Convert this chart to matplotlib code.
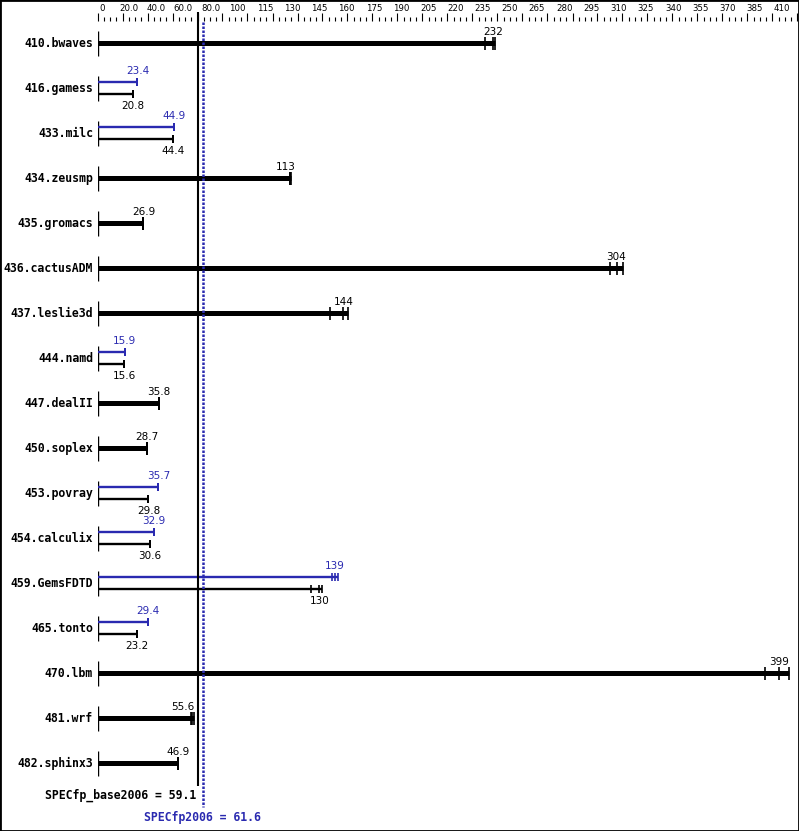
import numpy as np
import matplotlib
matplotlib.use("Agg")
import matplotlib.pyplot as plt
from matplotlib.patches import Rectangle


# benchmark data (SPEC CPU2006 fp ratios)
benchmarks = ["410.bwaves", "416.gamess", "433.milc", "434.zeusmp", "435.gromacs",
              "436.cactusADM", "437.leslie3d", "444.namd", "447.dealII", "450.soplex",
              "453.povray", "454.calculix", "459.GemsFDTD", "465.tonto", "470.lbm",
              "481.wrf", "482.sphinx3"]
base_ratio = [232, 20.8, 44.4, 113, 26.9, 304, 144, 15.6, 35.8, 28.7,
              29.8, 30.6, 130, 23.2, 399, 55.6, 46.9]
peak_ratio = [None, 23.4, 44.9, None, None, None, None, 15.9, None, None,
              35.7, 32.9, 139, 29.4, None, None, None]
base_runs = [[227, 231.6, 233], [20.8, 20.8, 20.8], [44.3, 44.4, 44.4], [113, 113, 113.2],
             [26.9, 26.9, 26.9], [300, 304, 308], [136, 144, 147], [15.6, 15.6, 15.6],
             [35.8, 35.8, 35.8], [28.7, 28.7, 28.7], [29.8, 29.8, 29.8], [30.6, 30.6, 30.6],
             [125, 130, 131.5], [23.2, 23.2, 23.2], [391, 399, 405], [54.8, 55.6, 56.3],
             [46.9, 46.9, 46.9]]
peak_runs = [None, [23.3, 23.4, 23.4], [44.9, 44.9, 44.9], None, None, None, None,
             [15.9, 15.9, 15.9], None, None, [35.7, 35.7, 35.7], [32.9, 32.9, 32.9],
             [137.6, 139, 141], [29.4, 29.4, 29.4], None, None, None]

spec_base = 59.1
spec_peak = 61.6

axis_labels = ["0", "20.0", "40.0", "60.0", "80.0", "100", "115", "130", "145", "160",
               "175", "190", "205", "220", "235", "250", "265", "280", "295", "310",
               "325", "340", "355", "370", "385", "410"]
XMAX = 410

BLUE = "#2a2ab0"
W_PX, H_PX = 799, 831
X0_PX, X1_PX = 97.5, 797.5
ROW0_PX, ROW_PX = 43.3, 45.0
MONO = "DejaVu Sans Mono"

# small horizontal nudges (pixels) of a few value labels, as in the original
label_nudge = {"434.zeusmp": -5, "481.wrf": -10}


def row_of(px):
    # pixel row (from the top) -> y data units
    return (px - ROW0_PX) / ROW_PX


def x_of(px):
    return (px - X0_PX) / (X1_PX - X0_PX) * XMAX


fig = plt.figure(figsize=(W_PX / 100, H_PX / 100), dpi=100)
ax = fig.add_axes([X0_PX / W_PX, 0, (X1_PX - X0_PX) / W_PX, 1])
ax.set_xlim(0, XMAX)
ax.set_ylim(row_of(H_PX), row_of(0))
ax.axis("off")

### Top scale
tax = fig.add_axes([X0_PX / W_PX, 1 - 20.7 / H_PX, (X1_PX - X0_PX) / W_PX, 8.4 / H_PX])
tax.set_xlim(0, XMAX)
tax.set_xticks(np.linspace(0, XMAX, 29))
tax.set_xticks(np.linspace(0, XMAX, 113), minor=True)
tax.tick_params(axis="x", which="major", direction="in", length=8.4 * 0.72, width=0.8,
                labelbottom=False, color="black")
tax.tick_params(axis="x", which="minor", direction="in", length=4 * 0.72, width=0.8,
                color="black")
tax.set_yticks([])
for s in tax.spines.values():
    s.set_visible(False)
tax.patch.set_alpha(0)

label_x = np.linspace(x_of(101.7), x_of(782), len(axis_labels))
for lx, lab in zip(label_x, axis_labels):
    ax.text(lx, row_of(8), lab, ha="center", va="center", fontsize=6.2,
            family="DejaVu Sans")

### Bars
def draw_bar(y, runs, med, color, thick, label_above, nudge=0):
    lw = 3.6 if thick else 1.7
    half = 0.14 if thick else 0.09
    ax.hlines(y, 0, max(runs), color=color, lw=lw)
    ax.vlines(runs, y - half, y + half, color=color, lw=1.2)
    txt = f"{med:g}" if med >= 100 else f"{med:.1f}"
    ax.annotate(txt, (med, y), xytext=(nudge, 11 if label_above else -12),
                textcoords="offset pixels", ha="center", va="center",
                fontsize=7.5, color=color)


for i, name in enumerate(benchmarks):
    ax.vlines(0, i - 0.28, i + 0.28, color="black", lw=1)
    ax.annotate(name, (0, i), xytext=(-4.5, 0), textcoords="offset pixels",
                ha="right", va="center", fontsize=8.3, fontweight="bold", family=MONO)
    if peak_ratio[i] is None:
        draw_bar(i, base_runs[i], base_ratio[i], "black", True, True,
                 label_nudge.get(name, 0))
    else:
        off = 6 / ROW_PX
        draw_bar(i - off, peak_runs[i], peak_ratio[i], BLUE, False, True)
        draw_bar(i + off, base_runs[i], base_ratio[i], "black", False, False)

### Overall score lines
ax.vlines(spec_base, row_of(12), row_of(786), color="black", lw=1.5)
ax.vlines(spec_peak, row_of(21.7), row_of(807), color=BLUE, lw=1.8,
          linestyles=[(0, (1, 0.6))])

last = len(benchmarks) - 1
ax.annotate(f"SPECfp_base2006 = {spec_base}", (spec_base, last), xytext=(-2, -32),
            textcoords="offset pixels", ha="right", va="center", fontsize=8.3,
            fontweight="bold", family=MONO, color="black")
ax.annotate(f"SPECfp2006 = {spec_peak}", (spec_peak, last), xytext=(0, -54),
            textcoords="offset pixels", ha="center", va="center", fontsize=8.3,
            fontweight="bold", family=MONO, color=BLUE)

# frame around the picture
fig.add_artist(Rectangle((0, 0), 1, 1, transform=fig.transFigure, fill=False,
                         ec="black", lw=2))

fig.savefig("out.png", dpi=100)
